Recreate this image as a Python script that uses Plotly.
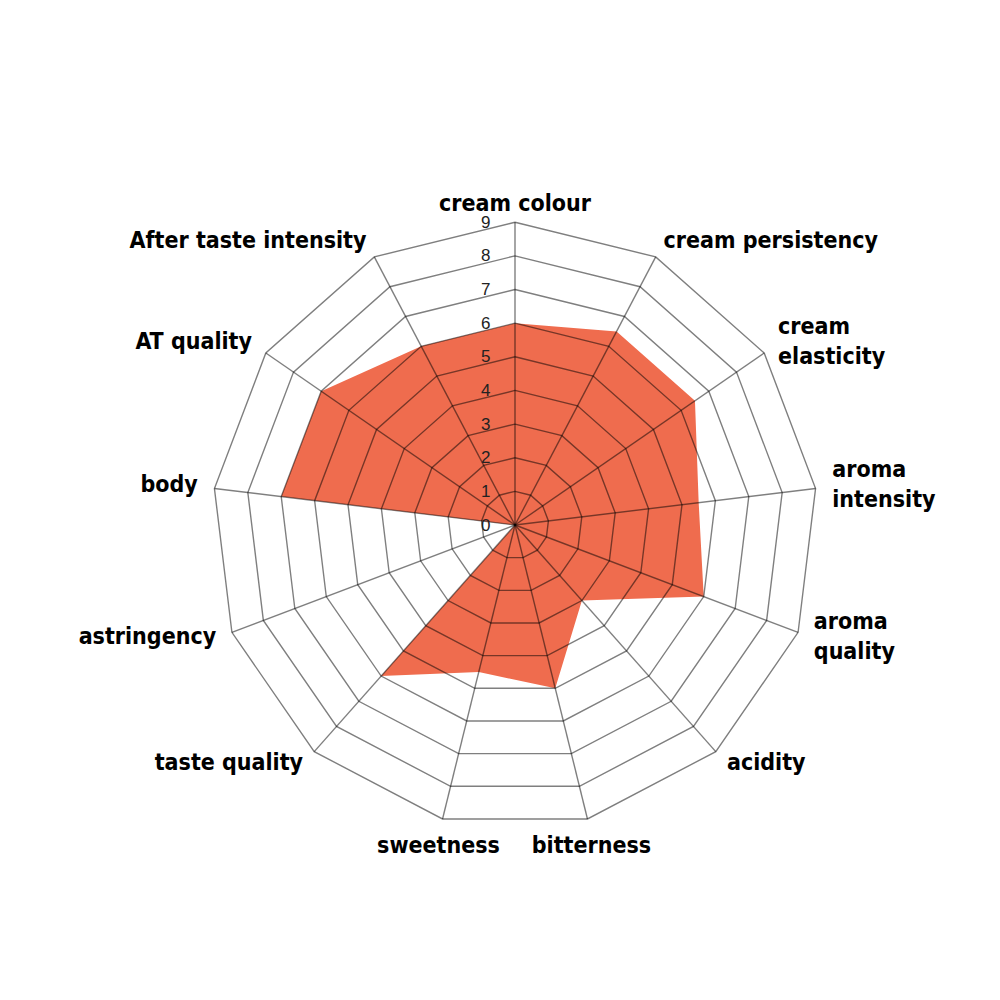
import plotly.graph_objects as go

categories = ["cream colour", "cream persistency", "cream elasticity", "aroma intensity",
              "aroma quality", "acidity", "bitterness", "sweetness", "taste quality",
              "astringency", "body", "AT quality", "After taste intensity"]
label_text = ["cream colour", "cream persistency", "cream<br>elasticity", "aroma<br>intensity",
              "aroma<br>quality", "acidity", "bitterness", "sweetness", "taste quality",
              "astringency", "body", "AT quality", "After taste intensity"]
label_pos = ["middle center", "middle right", "middle right", "middle right", "middle right",
             "middle right", "bottom center", "bottom center", "middle left", "middle left",
             "middle left", "middle left", "middle left"]
values = [6, 6.5, 6.5, 5.5, 6, 3, 5, 4.5, 6, 0, 7, 7, 6]
rings = [1, 2, 3, 4, 5, 6, 7, 8, 9]
tick_vals = [0, 1, 2, 3, 4, 5, 6, 7, 8, 9]
label_r = 9.5
outer_r = 9.75

grid_color = "rgba(0,0,0,0.5)"
fig = go.Figure()

fig.add_trace(go.Scatterpolar(
    r=values + [values[0]], theta=categories + [categories[0]],
    mode="none", fill="toself", fillcolor="#EF6C4E", hoverinfo="skip", showlegend=False))

# polygon rings
for k in rings:
    fig.add_trace(go.Scatterpolar(
        r=[k] * (len(categories) + 1), theta=categories + [categories[0]],
        mode="lines", line=dict(color=grid_color, width=1.4),
        hoverinfo="skip", showlegend=False))

# spokes
sr, st = [], []
for c in categories:
    sr += [0, max(rings), None]
    st += [c, c, None]
fig.add_trace(go.Scatterpolar(r=sr, theta=st, mode="lines", connectgaps=False,
                              line=dict(color=grid_color, width=1.4),
                              hoverinfo="skip", showlegend=False))

# category labels
fig.add_trace(go.Scatterpolar(
    r=[label_r] * len(categories), theta=categories, mode="text",
    text=label_text, textposition=label_pos, cliponaxis=False,
    textfont=dict(family="DejaVu Sans Condensed, sans-serif", size=23,
                  color="black", weight="bold"),
    hoverinfo="skip", showlegend=False))

fig.update_layout(
    width=1000, height=1000,
    paper_bgcolor="white", plot_bgcolor="white",
    margin=dict(l=187, r=157, t=197, b=147),
    showlegend=False,
    polar=dict(
        bgcolor="rgba(0,0,0,0)",
        gridshape="linear",
        angularaxis=dict(
            rotation=90, direction="clockwise", type="category",
            categoryarray=categories, showgrid=False, showline=False,
            ticks="", showticklabels=False,
        ),
        radialaxis=dict(
            range=[0, outer_r], tickvals=tick_vals, ticktext=[str(v) for v in tick_vals],
            showgrid=False, showline=False, angle=90, tickangle=90,
            ticks="outside", ticklen=18, tickcolor="rgba(0,0,0,0)",
            side="counterclockwise",
            tickfont=dict(family="Liberation Sans, Arial, sans-serif", size=17, color="#222222"),
        ),
    ),
)

fig.write_html("out.html")
